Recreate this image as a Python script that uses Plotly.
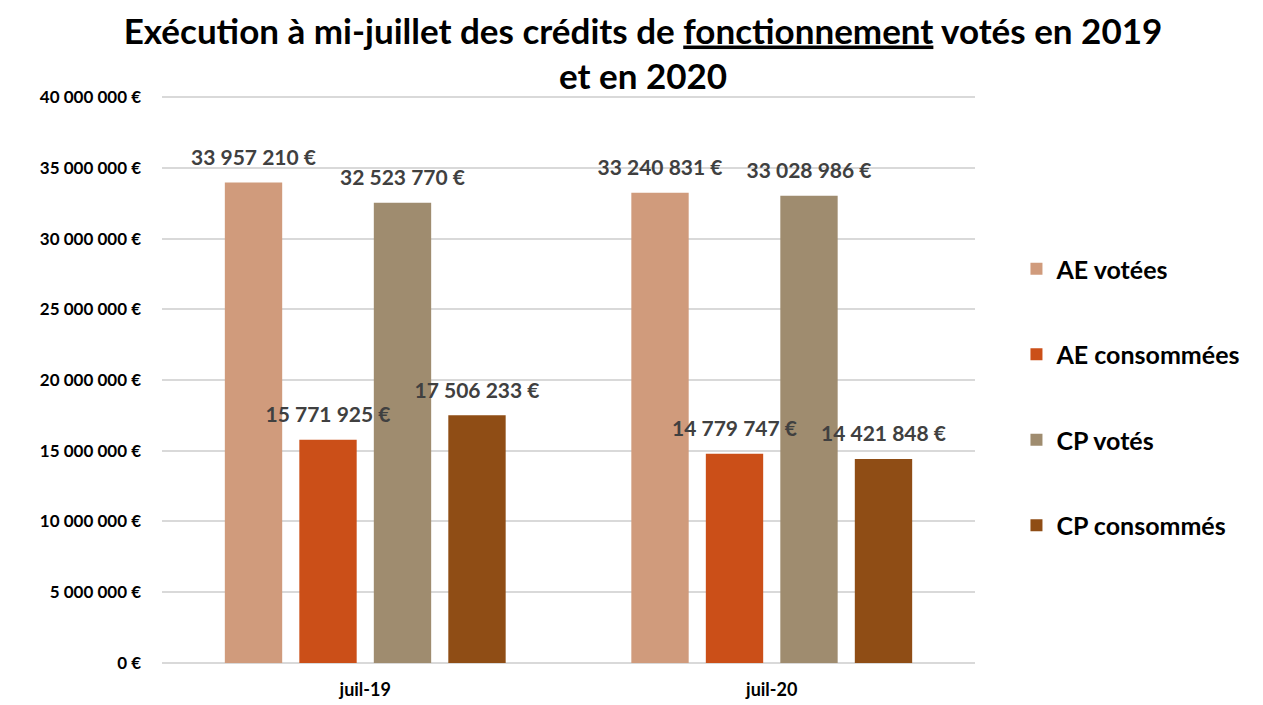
import plotly.graph_objects as go

# ==================== DATA ====================
categories = ["juil-19", "juil-20"]
series_names = ["AE votées", "AE consommées", "CP votés", "CP consommés"]
ae_votees = [33957210, 33240831]
ae_consommees = [15771925, 14779747]
cp_votes = [32523770, 33028986]
cp_consommes = [17506233, 14421848]
tick_values = [0, 5000000, 10000000, 15000000, 20000000, 25000000, 30000000, 35000000, 40000000]
tick_labels = ["0 €", "5 000 000 €", "10 000 000 €", "15 000 000 €", "20 000 000 €",
               "25 000 000 €", "30 000 000 €", "35 000 000 €", "40 000 000 €"]

# ==================== STYLE ====================
COLORS = ['#D09B7C', '#CB4F18', '#9F8C6F', '#8F4D15']
FONT = 'Lato'
GRID = '#D9D9D9'
Y_RANGE = [-150000, 40150000]  # a little slack so the 0 and 40M grid lines are drawn
LABEL_LIFT = 750000  # raises the value labels a little above the bar tops


def euro(v):
    return f"{v:,}".replace(",", " ") + " €"


all_values = [ae_votees, ae_consommees, cp_votes, cp_consommes]

fig = go.Figure()
for name, values, color in zip(series_names, all_values, COLORS):
    fig.add_trace(go.Bar(
        x=categories,
        y=values,
        name=name,
        legendgroup=name,
        marker=dict(color=color, line=dict(width=0)),
        hovertemplate="%{x}<br>" + name + " : %{y:,.0f} €<extra></extra>",
    ))

# labels on an overlaid axis pair so they sit above every bar (like Excel)
for name, values in zip(series_names, all_values):
    fig.add_trace(go.Bar(
        x=categories,
        y=values,
        name=name,
        xaxis='x2',
        yaxis='y2',
        showlegend=False,
        hoverinfo='skip',
        marker=dict(color='rgba(0,0,0,0)', line=dict(width=0)),
        text=[euro(v) for v in values],
        textposition='outside',
        constraintext='none',
        cliponaxis=False,
        textfont=dict(family=FONT, size=21, color='#404040', weight='bold'),
    ))

# page body has an 8px margin, so the figure is a bit smaller than the window
fig.update_layout(
    title=dict(
        text="<b>Exécution à mi-juillet des crédits de <u>fonctionnement</u> votés en 2019<br>et en 2020</b>",
        x=0.506, xanchor='center', y=0.949, yanchor='middle',
        font=dict(family=FONT, size=35, color='#000000'),
    ),
    barmode='group',
    bargap=0.267,
    bargroupgap=0.23,
    width=1255,
    height=697,
    paper_bgcolor='white',
    plot_bgcolor='white',
    margin=dict(l=154, r=288, t=87, b=40),
    xaxis=dict(
        showgrid=False, showline=False, ticks='',
        automargin=False,
        ticklabelstandoff=12,
        tickfont=dict(family=FONT, size=18, color='#000000', weight='bold'),
    ),
    yaxis=dict(
        range=Y_RANGE,
        tickvals=tick_values,
        ticktext=tick_labels,
        gridcolor=GRID, gridwidth=2,
        zeroline=True, zerolinecolor=GRID, zerolinewidth=2,
        showline=False, ticks='',
        automargin=False,
        ticklabelstandoff=20,
        tickfont=dict(family=FONT, size=17, color='#000000', weight='bold'),
    ),
    xaxis2=dict(overlaying='x', matches='x', visible=False),
    yaxis2=dict(overlaying='y', range=[Y_RANGE[0] - LABEL_LIFT, Y_RANGE[1] - LABEL_LIFT],
                visible=False, showgrid=False, zeroline=False),
    legend=dict(
        x=1.051, xanchor='left', y=0.735, yanchor='top',
        tracegroupgap=50,
        font=dict(family=FONT, size=25, color='#000000', weight='bold'),
        itemwidth=30,
    ),
    showlegend=True,
)

fig.write_html("out.html")
